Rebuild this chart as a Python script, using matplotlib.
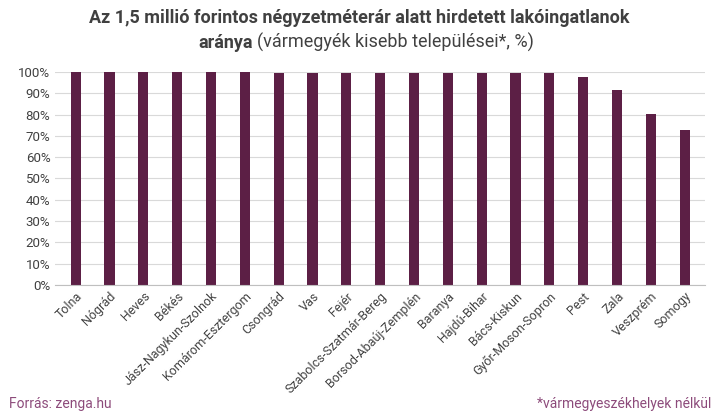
import matplotlib.pyplot as plt
from matplotlib.ticker import PercentFormatter

plt.rcParams['font.family'] = 'Roboto'

megyek = ['Tolna', 'Nógrád', 'Heves', 'Békés', 'Jász-Nagykun-Szolnok', 'Komárom-Esztergom',
          'Csongrád', 'Vas', 'Fejér', 'Szabolcs-Szatmár-Bereg', 'Borsod-Abaúj-Zemplén',
          'Baranya', 'Hajdú-Bihar', 'Bács-Kiskun', 'Győr-Moson-Sopron', 'Pest', 'Zala',
          'Veszprém', 'Somogy']
arany = [100, 100, 100, 100, 100, 99.8, 99.7, 99.7, 99.7, 99.6, 99.6,
         99.6, 99.5, 99.4, 99.3, 97.6, 91.5, 80.5, 72.8]

fig = plt.figure(figsize=(7.18, 4.16), dpi=100)
ax = fig.add_axes([0.077, 0.315, 0.905, 0.512])
ax.bar(range(len(megyek)), arany, width=0.3, color='#5c1f45', zorder=2)
ax.set_ylim(0, 100)
ax.set_xlim(-0.6, len(megyek) - 0.4)
ax.set_yticks(range(0, 101, 10))
ax.yaxis.set_major_formatter(PercentFormatter(decimals=0))
ax.grid(axis='y', color='#d9d9d9', linewidth=0.8, zorder=0)
ax.set_xticks(range(len(megyek)))
ax.set_xticklabels(megyek, rotation=45, ha='right', rotation_mode='anchor', fontsize=9, color='#404040')
ax.tick_params(axis='y', labelsize=9.5, labelcolor='#404040', length=0)
ax.tick_params(axis='x', length=0)
for s in ['top', 'right', 'left']:
    ax.spines[s].set_visible(False)
ax.spines['bottom'].set_color('#bfbfbf')

fig.text(0.5, 0.945, 'Az 1,5 millió forintos négyzetméterár alatt hirdetett lakóingatlanok',
         ha='center', fontsize=13, fontweight='bold', color='#404040')
t1 = fig.text(0.276, 0.885, 'aránya', fontsize=13, fontweight='bold', color='#404040')
fig.canvas.draw()
bb = t1.get_window_extent().transformed(fig.transFigure.inverted())
fig.text(bb.x1 + 0.006, 0.885, '(vármegyék kisebb települései*, %)', fontsize=13, color='#404040')
fig.text(0.012, 0.02, 'Forrás: zenga.hu', fontsize=10, color='#8c4a7a')
fig.text(0.99, 0.02, '*vármegyeszékhelyek nélkül', fontsize=10, color='#8c4a7a', ha='right')

fig.savefig('out.png', dpi=100)
